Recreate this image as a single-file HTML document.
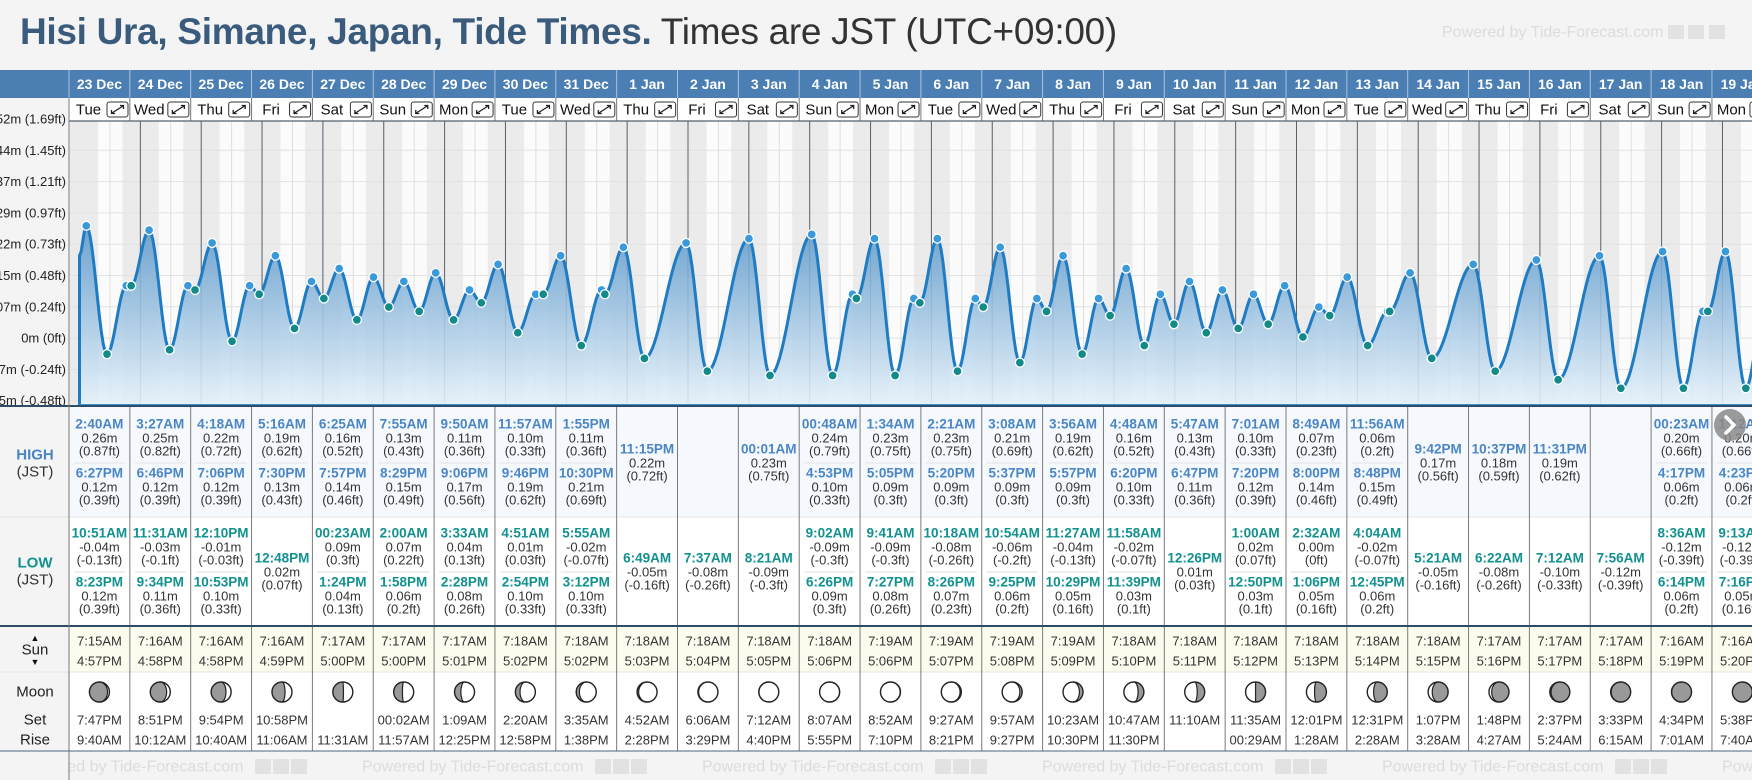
<!DOCTYPE html>
<html><head><meta charset="utf-8">
<style>
html,body{margin:0;padding:0;width:1752px;height:780px;overflow:hidden;background:#f4f4f4;font-family:"Liberation Sans",sans-serif;}
#title{position:absolute;left:20px;top:11px;font-size:37px;white-space:nowrap;color:#333;letter-spacing:-0.3px}
#title b{color:#3b5b7c}
#wm{position:absolute;left:1442px;top:24px;font-size:16px;color:#dcdcdc;white-space:nowrap}
#chart{position:absolute;left:0;top:0}
</style></head>
<body>
<div id="title"><b>Hisi Ura, Simane, Japan, Tide Times.</b> Times are JST (UTC+09:00)</div>
<div id="wm">Powered by Tide-Forecast.com <span style="display:inline-block;width:16px;height:14px;background:#e2e2e2;vertical-align:-2px"></span> <span style="display:inline-block;width:16px;height:14px;background:#e2e2e2;vertical-align:-2px"></span> <span style="display:inline-block;width:16px;height:14px;background:#e2e2e2;vertical-align:-2px"></span></div>
<svg id="chart" width="1752" height="780"></svg>
<script>
const dates=["23 Dec","24 Dec","25 Dec","26 Dec","27 Dec","28 Dec","29 Dec","30 Dec","31 Dec","1 Jan","2 Jan","3 Jan","4 Jan","5 Jan","6 Jan","7 Jan","8 Jan","9 Jan","10 Jan","11 Jan","12 Jan","13 Jan","14 Jan","15 Jan","16 Jan","17 Jan","18 Jan","19 Jan"];
const weekdays=["Tue","Wed","Thu","Fri","Sat","Sun","Mon","Tue","Wed","Thu","Fri","Sat","Sun","Mon","Tue","Wed","Thu","Fri","Sat","Sun","Mon","Tue","Wed","Thu","Fri","Sat","Sun","Mon"];
const highTimes=[["2:40AM","6:27PM"],["3:27AM","6:46PM"],["4:18AM","7:06PM"],["5:16AM","7:30PM"],["6:25AM","7:57PM"],["7:55AM","8:29PM"],["9:50AM","9:06PM"],["11:57AM","9:46PM"],["1:55PM","10:30PM"],["11:15PM"],[],["00:01AM"],["00:48AM","4:53PM"],["1:34AM","5:05PM"],["2:21AM","5:20PM"],["3:08AM","5:37PM"],["3:56AM","5:57PM"],["4:48AM","6:20PM"],["5:47AM","6:47PM"],["7:01AM","7:20PM"],["8:49AM","8:00PM"],["11:56AM","8:48PM"],["9:42PM"],["10:37PM"],["11:31PM"],[],["00:23AM","4:17PM"],["1:12AM","4:23PM"]];
const highMeters=[[0.26,0.12],[0.25,0.12],[0.22,0.12],[0.19,0.13],[0.16,0.14],[0.13,0.15],[0.11,0.17],[0.10,0.19],[0.11,0.21],[0.22],[],[0.23],[0.24,0.10],[0.23,0.09],[0.23,0.09],[0.21,0.09],[0.19,0.09],[0.16,0.10],[0.13,0.11],[0.10,0.12],[0.07,0.14],[0.06,0.15],[0.17],[0.18],[0.19],[],[0.20,0.06],[0.20,0.06]];
const highFeet=[["0.87","0.39"],["0.82","0.39"],["0.72","0.39"],["0.62","0.43"],["0.52","0.46"],["0.43","0.49"],["0.36","0.56"],["0.33","0.62"],["0.36","0.69"],["0.72"],[],["0.75"],["0.79","0.33"],["0.75","0.3"],["0.75","0.3"],["0.69","0.3"],["0.62","0.3"],["0.52","0.33"],["0.43","0.36"],["0.33","0.39"],["0.23","0.46"],["0.2","0.49"],["0.56"],["0.59"],["0.62"],[],["0.66","0.2"],["0.66","0.2"]];
const lowTimes=[["10:51AM","8:23PM"],["11:31AM","9:34PM"],["12:10PM","10:53PM"],["12:48PM"],["00:23AM","1:24PM"],["2:00AM","1:58PM"],["3:33AM","2:28PM"],["4:51AM","2:54PM"],["5:55AM","3:12PM"],["6:49AM"],["7:37AM"],["8:21AM"],["9:02AM","6:26PM"],["9:41AM","7:27PM"],["10:18AM","8:26PM"],["10:54AM","9:25PM"],["11:27AM","10:29PM"],["11:58AM","11:39PM"],["12:26PM"],["1:00AM","12:50PM"],["2:32AM","1:06PM"],["4:04AM","12:45PM"],["5:21AM"],["6:22AM"],["7:12AM"],["7:56AM"],["8:36AM","6:14PM"],["9:13AM","7:16PM"]];
const lowMeters=[[-0.04,0.12],[-0.03,0.11],[-0.01,0.10],[0.02],[0.09,0.04],[0.07,0.06],[0.04,0.08],[0.01,0.10],[-0.02,0.10],[-0.05],[-0.08],[-0.09],[-0.09,0.09],[-0.09,0.08],[-0.08,0.07],[-0.06,0.06],[-0.04,0.05],[-0.02,0.03],[0.01],[0.02,0.03],[0.00,0.05],[-0.02,0.06],[-0.05],[-0.08],[-0.10],[-0.12],[-0.12,0.06],[-0.12,0.05]];
const lowFeet=[["-0.13","0.39"],["-0.1","0.36"],["-0.03","0.33"],["0.07"],["0.3","0.13"],["0.22","0.2"],["0.13","0.26"],["0.03","0.33"],["-0.07","0.33"],["-0.16"],["-0.26"],["-0.3"],["-0.3","0.3"],["-0.3","0.26"],["-0.26","0.23"],["-0.2","0.2"],["-0.13","0.16"],["-0.07","0.1"],["0.03"],["0.07","0.1"],["0","0.16"],["-0.07","0.2"],["-0.16"],["-0.26"],["-0.33"],["-0.39"],["-0.39","0.2"],["-0.39","0.16"]];
const sunrise=["7:15AM","7:16AM","7:16AM","7:16AM","7:17AM","7:17AM","7:17AM","7:18AM","7:18AM","7:18AM","7:18AM","7:18AM","7:18AM","7:19AM","7:19AM","7:19AM","7:19AM","7:18AM","7:18AM","7:18AM","7:18AM","7:18AM","7:18AM","7:17AM","7:17AM","7:17AM","7:16AM","7:16AM"];
const sunset=["4:57PM","4:58PM","4:58PM","4:59PM","5:00PM","5:00PM","5:01PM","5:02PM","5:02PM","5:03PM","5:04PM","5:05PM","5:06PM","5:06PM","5:07PM","5:08PM","5:09PM","5:10PM","5:11PM","5:12PM","5:13PM","5:14PM","5:15PM","5:16PM","5:17PM","5:18PM","5:19PM","5:20PM"];
const moonSet=["7:47PM","8:51PM","9:54PM","10:58PM","","00:02AM","1:09AM","2:20AM","3:35AM","4:52AM","6:06AM","7:12AM","8:07AM","8:52AM","9:27AM","9:57AM","10:23AM","10:47AM","11:10AM","11:35AM","12:01PM","12:31PM","1:07PM","1:48PM","2:37PM","3:33PM","4:34PM","5:38PM"];
const moonRise=["9:40AM","10:12AM","10:40AM","11:06AM","11:31AM","11:57AM","12:25PM","12:58PM","1:38PM","2:28PM","3:29PM","4:40PM","5:55PM","7:10PM","8:21PM","9:27PM","10:30PM","11:30PM","","00:29AM","1:28AM","2:28AM","3:28AM","4:27AM","5:24AM","6:15AM","7:01AM","7:40AM"];
const moonPhase=[0.10,0.14,0.17,0.20,0.24,0.27,0.31,0.34,0.37,0.41,0.44,0.47,0.51,0.54,0.58,0.61,0.64,0.68,0.71,0.75,0.78,0.81,0.85,0.88,0.92,0.95,0.98,0.02];
const startLevel=0.19;
const axisMeters=["0.52m","0.44m","0.37m","0.29m","0.22m","0.15m","0.07m","0m","-0.07m","-0.15m"];
const axisFeet=["1.69ft","1.45ft","1.21ft","0.97ft","0.73ft","0.48ft","0.24ft","0ft","-0.24ft","-0.48ft"];

const NS='http://www.w3.org/2000/svg';
const svg=document.getElementById('chart');
function mk(tag,attrs,parent,text){const e=document.createElementNS(NS,tag);for(const k in attrs)e.setAttribute(k,attrs[k]);if(text!==undefined)e.textContent=text;(parent||svg).appendChild(e);return e;}
const COL0=69,CW=60.85,MID0=79.5,PT=121,PB=406;
const PX_PER_TICK=31.3,TICK_M=0.0732;
function yOf(m){return 337-m*(PX_PER_TICK/TICK_M);}
function xOf(d,h){return MID0+(d+h/24)*CW;}
function parseT(s){const m=s.match(/(\d+):(\d+)(AM|PM)/);let h=(+m[1])%12;if(m[3]==='PM')h+=12;return h+(+m[2])/60;}
const F='"Liberation Sans",sans-serif';

const defs=mk('defs',{});
const grad=mk('linearGradient',{id:'fillg',x1:0,y1:210,x2:0,y2:406,gradientUnits:'userSpaceOnUse'},defs);
mk('stop',{offset:'0','stop-color':'#4f90c6'},grad);
mk('stop',{offset:'1','stop-color':'#e6f2fb'},grad);
const cp=mk('clipPath',{id:'plotclip'},defs);
mk('rect',{x:70,y:PT,width:1682,height:PB-PT},cp);

const plotBg=mk('rect',{x:70,y:PT,width:1682,height:PB-PT,fill:'#fbfbfb'});


const pg=mk('g',{'clip-path':'url(#plotclip)'});


for(let i=-1;i<28;i++){
  const di=Math.max(i,0);
  const x1=xOf(i,parseT(sunset[di])),x2=xOf(i+1,parseT(sunrise[Math.min(i+1,27)]));
  const n=mk('rect',{x:x1,y:PT,width:x2-x1,height:PB-PT,fill:'#ebebeb'},pg);
  
  
}
for(let k=0;k<10;k++){
  const gl=mk('line',{x1:70,x2:1752,y1:119+k*PX_PER_TICK,y2:119+k*PX_PER_TICK,stroke:'#e2e2e2','stroke-width':1},pg);
  
  
}
for(let i=0;i<29;i++){
  const nl=mk('line',{x1:xOf(i,12),x2:xOf(i,12),y1:PT,y2:PB,stroke:'#dedede','stroke-width':1},pg);
  
  
  if(i>0){
    const dl=mk('line',{x1:xOf(i,0),x2:xOf(i,0),y1:PT,y2:PB,stroke:'#56626e','stroke-width':1},pg);
    
    
  }
}
const ev=[];
for(let d=0;d<28;d++){
  highTimes[d].forEach((t,j)=>ev.push({x:xOf(d,parseT(t)),m:highMeters[d][j],hi:true}));
  lowTimes[d].forEach((t,j)=>ev.push({x:xOf(d,parseT(t)),m:lowMeters[d][j],hi:false}));
}
ev.sort((a,b)=>a.x-b.x);
const pts=[{x:MID0,m:startLevel}].concat(ev);
let line='M'+MID0+' '+yOf(startLevel);
for(let i=0;i<pts.length-1;i++){
  const a=pts[i],b=pts[i+1];const n=Math.max(2,Math.ceil((b.x-a.x)/2));
  for(let s=1;s<=n;s++){const t=s/n;const m=a.m+(b.m-a.m)*(1-Math.cos(Math.PI*t))/2;line+=' L'+(a.x+(b.x-a.x)*t).toFixed(2)+' '+yOf(m).toFixed(2);}
}
const lastX=pts[pts.length-1].x;
const area=mk('path',{d:'M'+MID0+' '+PB+' L'+line.slice(1)+' L'+lastX+' '+PB+' Z',fill:'url(#fillg)','fill-opacity':0.88},pg);


const curve=mk('path',{d:'M'+MID0+' '+PB+' L'+line.slice(1),fill:'none',stroke:'#1f7cc3','stroke-width':3,'stroke-linejoin':'round'},pg);


const base=mk('line',{x1:MID0,x2:1752,y1:PB-1,y2:PB-1,stroke:'#3d8fd0','stroke-width':2},pg);


ev.forEach(e=>{
  const c=mk('circle',{cx:e.x,cy:yOf(e.m),r:4.5,fill:e.hi?'#3a9ad9':'#138a8a',stroke:'#fff','stroke-width':1.3},pg);
  
  
});

const lp=mk('rect',{x:0,y:98,width:69,height:653,fill:'#f4f4f4'});


for(let k=0;k<10;k++){
  const yl=mk('text',{x:66,y:119+k*PX_PER_TICK,'text-anchor':'end','dominant-baseline':'central','font-size':13,'font-family':F,fill:'#222'},svg,axisMeters[k]+' ('+axisFeet[k]+')');
  
  
}
const hb=mk('rect',{x:0,y:70,width:1752,height:28,fill:'#4b7eb3'});


const dr=mk('rect',{x:69,y:98,width:1683,height:23,fill:'#fff'});


for(let d=0;d<28;d++){
  const x=COL0+d*CW;
  const dt=mk('text',{x:x+CW/2,y:84,'text-anchor':'middle','dominant-baseline':'central','font-size':14,'font-weight':'bold','font-family':F,fill:'#fff'},svg,dates[d]);
  
  
  const sep=mk('line',{x1:x,x2:x,y1:70,y2:98,stroke:'#a9c3de','stroke-width':1});
  
  
  const sep2=mk('line',{x1:x,x2:x,y1:98,y2:121,stroke:'#777','stroke-width':1});
  
  
  const wd=mk('text',{x:x+19.5,y:110,'text-anchor':'middle','dominant-baseline':'central','font-size':15,'font-family':F,fill:'#111'},svg,weekdays[d]);
  
  
  const eb=mk('g',{});
  
  
  mk('rect',{x:x+38,y:102,width:21,height:15,rx:2.5,fill:'#fff',stroke:'#333','stroke-width':1},eb);
  mk('path',{d:`M${x+43} ${113} L${x+54} ${106} M${x+51} ${105.5} L${x+54.5} ${105.5} L${x+54.5} ${109} M${x+42.5} ${110} L${x+42.5} ${113.5} L${x+46} ${113.5}`,stroke:'#222','stroke-width':1.3,fill:'none'},eb);
}
const dbl=mk('line',{x1:69,x2:1752,y1:121,y2:121,stroke:'#55606b','stroke-width':1.2});



const hs=mk('rect',{x:70,y:406,width:1682,height:111,fill:'#f5f9fe'});


const ls=mk('rect',{x:70,y:517,width:1682,height:109,fill:'#fff'});


const sr=mk('rect',{x:70,y:626,width:1682,height:46,fill:'#fcfcee'});


const mr=mk('rect',{x:70,y:672,width:1682,height:79,fill:'#fff'});


const ls2=mk('rect',{x:0,y:406,width:69,height:345,fill:'#f4f4f4'});


const mid1=mk('line',{x1:0,x2:1752,y1:517,y2:517,stroke:'#e4e4e4','stroke-width':1});


const mid2=mk('line',{x1:0,x2:1752,y1:672,y2:672,stroke:'#e4e4e4','stroke-width':1});



function cellEntries(d,times,meters,feet,top,color,name){
  const n=times.length;
  const x=COL0+d*CW+CW/2;
  const slots=n===2?[top,top+49]:[top+25];
  for(let j=0;j<n;j++){
    const y=slots[j];
    const t=mk('text',{x:x,y:y,'text-anchor':'middle','dominant-baseline':'central','font-size':13.5,'font-weight':'bold','font-family':F,fill:color},svg,times[j]);
    
    
    const mv=meters[j].toFixed(2).replace('-0.00','0.00')+'m';
    const v=mk('text',{x:x,y:y+14,'text-anchor':'middle','dominant-baseline':'central','font-size':13,'font-family':F,fill:'#333'},svg,mv);
    
    
    const f=mk('text',{x:x,y:y+27,'text-anchor':'middle','dominant-baseline':'central','font-size':13,'font-family':F,fill:'#333'},svg,'('+feet[j]+'ft)');
    
    
  }
  if(n===2){
    const dl=mk('line',{x1:COL0+d*CW+5,x2:COL0+(d+1)*CW-5,y1:top+39,y2:top+39,stroke:'#e2e2e2','stroke-width':1});
    
    
  }
}
for(let d=0;d<28;d++){
  cellEntries(d,highTimes[d],highMeters[d],highFeet[d],424,'#4a86c5','high-tide');
  cellEntries(d,lowTimes[d],lowMeters[d],lowFeet[d],533,'#12918f','low-tide');
  const x=COL0+d*CW+CW/2;
  const s1=mk('text',{x:x,y:641,'text-anchor':'middle','dominant-baseline':'central','font-size':13,'font-family':F,fill:'#333'},svg,sunrise[d]);
  
  
  const s2=mk('text',{x:x,y:661,'text-anchor':'middle','dominant-baseline':'central','font-size':13,'font-family':F,fill:'#333'},svg,sunset[d]);
  
  
  const m1=mk('text',{x:x,y:720,'text-anchor':'middle','dominant-baseline':'central','font-size':13,'font-family':F,fill:'#333'},svg,moonSet[d]);
  
  
  const m2=mk('text',{x:x,y:740,'text-anchor':'middle','dominant-baseline':'central','font-size':13,'font-family':F,fill:'#333'},svg,moonRise[d]);
  
  
  const p=moonPhase[d],r=10,cx=x,cy=692;
  const mg=mk('g',{});
  
  
  mk('circle',{cx:cx,cy:cy,r:r,fill:'#999'},mg);
  const rx=Math.abs(Math.cos(2*Math.PI*p))*r;
  let dpath;
  if(p<0.5) dpath=`M${cx} ${cy-r} A${r} ${r} 0 0 1 ${cx} ${cy+r} A${rx} ${r} 0 0 ${p<0.25?0:1} ${cx} ${cy-r}Z`;
  else dpath=`M${cx} ${cy-r} A${r} ${r} 0 0 0 ${cx} ${cy+r} A${rx} ${r} 0 0 ${p>0.75?1:0} ${cx} ${cy-r}Z`;
  mk('path',{d:dpath,fill:'#fff'},mg);
  mk('path',{d:`M${cx} ${cy-r} A${rx} ${r} 0 0 ${p<0.5?(p<0.25?1:0):(p>0.75?0:1)} ${cx} ${cy+r}`,fill:'none',stroke:'#222','stroke-width':1.2},mg);
  mk('circle',{cx:cx,cy:cy,r:r,fill:'none',stroke:'#222','stroke-width':1.4},mg);
  const cl=mk('line',{x1:COL0+d*CW,x2:COL0+d*CW,y1:406,y2:751,stroke:'#7a7a7a','stroke-width':1});
  
  
}
const b1=mk('line',{x1:0,x2:1752,y1:406,y2:406,stroke:'#2f4b68','stroke-width':2});


const b2=mk('line',{x1:0,x2:1752,y1:626,y2:626,stroke:'#2f4b68','stroke-width':2});


const b3=mk('line',{x1:0,x2:1752,y1:751,y2:751,stroke:'#4a6380','stroke-width':1});


const vl=mk('line',{x1:69,x2:69,y1:98,y2:780,stroke:'#7a7a7a','stroke-width':1});



const labels=[["HIGH",455,'bold','#4a86c5'],["(JST)",472,'normal','#333'],["LOW",563,'bold','#12918f'],["(JST)",580,'normal','#333'],["▲",638,'normal','#111'],["Sun",650,'normal','#222'],["▼",662,'normal','#111'],["Moon",692,'normal','#222'],["Set",720,'normal','#222'],["Rise",740,'normal','#222']];
labels.forEach(l=>{
  const t=mk('text',{x:35,y:l[1],'text-anchor':'middle','dominant-baseline':'central','font-size':(l[0].length===1?9:15),'font-weight':l[2],'font-family':F,fill:l[3]},svg,l[0]);
  
  
});
const nb=mk('g',{});


mk('circle',{cx:1730,cy:425,r:16,fill:'#8a8a8a','fill-opacity':0.85},nb);
mk('path',{d:'M1726 417 L1734 425 L1726 433',fill:'none',stroke:'#fff','stroke-width':3.5,'stroke-linecap':'round','stroke-linejoin':'round'},nb);
for(let i=0;i<6;i++){
  const fx=22+i*340;
  const fw=mk('text',{x:fx,y:767,'dominant-baseline':'central','font-size':16,'font-family':F,fill:'#dcdcdc'},svg,'Powered by Tide-Forecast.com');
  
  
  for(let k=0;k<3;k++) mk('rect',{x:fx+233+k*18,y:759,width:16,height:15,fill:'#e2e2e2'});
}
const fc=mk('rect',{x:0,y:752,width:69,height:28,fill:'#f4f4f4'});


const vl2=mk('line',{x1:69,x2:69,y1:752,y2:780,stroke:'#7a7a7a','stroke-width':1});


</script>
</body></html>
